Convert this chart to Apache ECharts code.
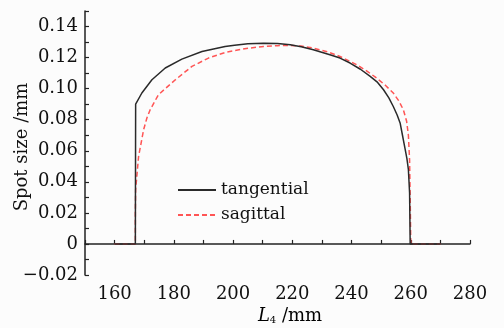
<!DOCTYPE html>
<html>
	<head>
		<meta charset="utf-8">
		<title>Spot size</title>
		<script src="https://cdn.jsdelivr.net/npm/echarts@6/dist/echarts.min.js"></script>
	</head>
	<body style="margin: 0;">
		<div id="box" style="width: 504px;height: 328px;"></div>
		<script>
			// L4 (mm) 和 spot size (mm)
			var tanX = [160, 167, 167.1, 169.2, 172.6, 177.1, 182.7, 189.5, 197.3, 200.5, 205, 210.3, 215, 219.3, 223, 227.1, 232.7, 236.1, 239.5, 243, 246.3, 248.8, 250.8, 252.6, 254.1, 255.4, 256.4, 257.2, 258.0, 258.7, 259.2, 259.6, 259.8, 270]
			var tanY = [0, 0, 0.090, 0.0972, 0.1057, 0.1133, 0.1190, 0.1239, 0.1272, 0.1280, 0.1289, 0.1293, 0.1291, 0.1283, 0.1270, 0.1250, 0.1218, 0.1197, 0.1165, 0.1125, 0.1079, 0.1040, 0.0993, 0.0940, 0.0885, 0.0830, 0.0779, 0.0700, 0.0620, 0.0550, 0.0478, 0.0330, 0, 0]
			var sagX = [160, 167, 167.0, 167.1, 168.1, 169.8, 170.9, 172.0, 174.8, 180.5, 186.1, 191.7, 197.3, 200.7, 205, 210.3, 215, 219.3, 223, 227.1, 232, 236.1, 239, 241.8, 245.2, 248.5, 251.5, 254.1, 256, 257.5, 258.6, 259.2, 259.6, 259.8, 260, 270]
			var sagY = [0, 0, 0.020, 0.035, 0.0564, 0.0736, 0.0811, 0.0864, 0.0961, 0.1057, 0.1143, 0.1197, 0.1233, 0.1246, 0.1260, 0.1272, 0.1277, 0.1278, 0.1274, 0.1261, 0.1237, 0.1207, 0.1180, 0.1154, 0.1113, 0.1068, 0.1020, 0.0972, 0.0920, 0.0864, 0.0790, 0.0700, 0.0540, 0.0300, 0, 0]
			var names = ['tangential', 'sagittal']

			function pairs(xs, ys) {
				return xs.map(function(x, i) { return [x, ys[i]] })
			}

			var font = '"DejaVu Serif", "Liberation Serif", serif'
			var mCharts = echarts.init(document.querySelector('#box'))

			var option = {
				animation: false,
				backgroundColor: '#fcfcfc',
				grid: { left: 85, right: 34, top: 11, bottom: 53 },
				legend: {
					orient: 'vertical',
					left: 177,
					top: 180,
					padding: 0,
					itemWidth: 38,
					itemHeight: 14,
					itemGap: 5,
					itemStyle: { color: 'rgba(0,0,0,0)', borderWidth: 0 },
					textStyle: { fontFamily: font, fontSize: 17, color: '#111', lineHeight: 20 },
					data: names
				},
				xAxis: {
					type: 'value',
					min: 150,
					max: 280,
					interval: 10,
					axisLine: { lineStyle: { color: '#222', width: 1.5 } },
					axisTick: { inside: true, length: 4, lineStyle: { color: '#222', width: 1.2 } },
					splitLine: { show: false },
					axisLabel: {
						interval: 0,
						margin: 10,
						color: '#111',
						fontFamily: font,
						fontSize: 18,
						formatter: function(v) {
							return Math.round(v) % 20 === 0 && v >= 160 ? String(Math.round(v)) : ''
						}
					}
				},
				yAxis: {
					type: 'value',
					min: -0.02,
					max: 0.15,
					interval: 0.01,
					axisLine: { show: true, lineStyle: { color: '#222', width: 1.5 } },
					axisTick: { show: true, inside: true, length: 4, lineStyle: { color: '#222', width: 1.2 } },
					splitLine: { show: false },
					axisLabel: {
						margin: 7,
						color: '#111',
						fontFamily: font,
						fontSize: 18,
						formatter: function(v) {
							var n = Math.round(v * 100)
							if (n % 2 !== 0) return ''
							if (n === 0) return '0'
							var s = (Math.abs(n) / 100).toFixed(2)
							return n < 0 ? '\u22120' + s.slice(1) : s
						}
					}
				},
				graphic: [
					{
						type: 'text',
						x: 22,
						y: 147,
						rotation: Math.PI / 2,
						style: {
							text: 'Spot size /mm',
							font: '18px ' + font,
							fill: '#111',
							align: 'center',
							verticalAlign: 'middle'
						}
					},
					{
						type: 'text',
						x: 290,
						y: 316,
						style: {
							text: '{l|L}{s|4}{n| /mm}',
							align: 'center',
							verticalAlign: 'middle',
							rich: {
								l: { fontFamily: font, fontStyle: 'italic', fontSize: 18, color: '#111' },
								s: { fontFamily: font, fontSize: 10, color: '#111', padding: [9, 0, 0, 0] },
								n: { fontFamily: font, fontSize: 18, color: '#111' }
							}
						}
					}
				],
				series: [
					{
						name: names[0],
						type: 'line',
						data: pairs(tanX, tanY),
						symbol: 'none',
						lineStyle: { color: '#2a2a2a', width: 1.5 },
						z: 3
					},
					{
						name: names[1],
						type: 'line',
						data: pairs(sagX, sagY),
						symbol: 'none',
						lineStyle: { color: '#ff5555', width: 1.5, type: [5, 3] },
						z: 2
					}
				]
			}
			mCharts.setOption(option)
		</script>
	</body>
</html>
